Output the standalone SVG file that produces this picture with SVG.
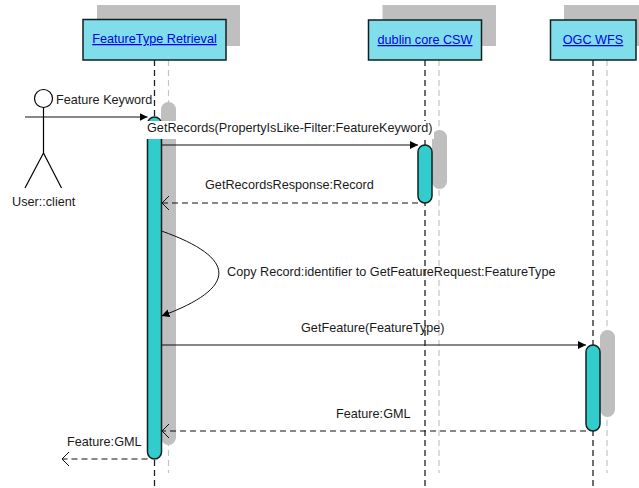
<svg xmlns="http://www.w3.org/2000/svg" width="639" height="488" viewBox="0 0 639 488">
<style>
text{font-family:"Liberation Sans",Arial,sans-serif;font-size:12.67px;fill:#1a1a1a}
.link{fill:#0000ee;text-decoration:underline;text-anchor:middle}
.head{fill:#80deea;stroke:#102020;stroke-width:1.5}
.shade{fill:#bfbfbf}
.life{stroke:#222;stroke-width:1.3;stroke-dasharray:6 4;fill:none}
.lifes{stroke:#c4c4c4;stroke-width:1.2;stroke-dasharray:6 4;fill:none}
.act{fill:#33cccc;stroke:#102020;stroke-width:1.5}
.msg{stroke:#111;stroke-width:1;fill:none}
.ret{stroke:#111;stroke-width:1;stroke-dasharray:6 4;fill:none}
.act-line{stroke:#000;stroke-width:1.2;fill:none}
</style>
<defs>
<marker id="solid" markerUnits="userSpaceOnUse" markerWidth="10" markerHeight="10" refX="8" refY="4" orient="auto"><path d="M0,0L8,4L0,8Z" fill="#000"/></marker>
<marker id="open" markerUnits="userSpaceOnUse" markerWidth="10" markerHeight="16" refX="8" refY="8" orient="auto"><path d="M1,1L8,8L1,15" fill="none" stroke="#111" stroke-width="1"/></marker>
</defs>
<g id="shadows">
<rect class="shade" x="97" y="5" width="143" height="41"/>
<rect class="shade" x="382.500" y="5" width="113.500" height="41"/>
<rect class="shade" x="564" y="5" width="75" height="41"/>
<path class="lifes" d="M168.500 60V473M439 60V473M607 60V473"/>
<rect class="shade" x="161" y="102" width="15" height="343" rx="7.500"/>
<rect class="shade" x="432" y="130" width="15" height="59" rx="7.500"/>
<rect class="shade" x="600" y="330" width="15" height="87" rx="7.500"/>
</g>
<g id="lifelines">
<path class="life" d="M154.500 60V488M425 60V488M593 60V488"/>
</g>
<g id="node-retrieval">
<rect class="head" x="83" y="19.500" width="143" height="40.500"/>
<text class="link" x="154.500" y="43">FeatureType Retrieval</text>
<rect class="act" x="147.500" y="117" width="14" height="342" rx="7"/>
</g>
<g id="node-csw">
<rect class="head" x="368.500" y="20" width="113" height="40"/>
<text class="link" x="425" y="44">dublin core CSW</text>
<rect class="act" x="418" y="145" width="14" height="58" rx="7"/>
</g>
<g id="node-wfs">
<rect class="head" x="550.500" y="20" width="85.500" height="40"/>
<text class="link" x="593" y="44">OGC WFS</text>
<rect class="act" x="586" y="345" width="14" height="86" rx="7"/>
</g>
<g id="node-client">
<circle cx="43.500" cy="98.500" r="9" fill="#fff" stroke="#000" stroke-width="1.200"/>
<path class="act-line" d="M43.500 107.500V153M43.500 153L25 188M43.500 153L61.500 188"/>
<text x="12" y="206">User::client</text>
</g>
<g id="connectors">
<path class="msg" d="M25 117H147.500" marker-end="url(#solid)"/>
<path class="msg" d="M161.500 145H418" marker-end="url(#solid)"/>
<path class="ret" d="M418 203H162" marker-end="url(#open)"/>
<path class="msg" d="M161.500 231C238 258 238 288 161.500 316" marker-end="url(#solid)"/>
<path class="msg" d="M161.500 345H586" marker-end="url(#solid)"/>
<path class="ret" d="M586 431H162" marker-end="url(#open)"/>
<path class="ret" d="M147.500 459H62" marker-end="url(#open)"/>
</g>
<g id="labels">
<rect x="146" y="121" width="288" height="18" fill="#fff"/>
<text x="147" y="132">GetRecords(PropertyIsLike-Filter:FeatureKeyword)</text>
<text x="56" y="104">Feature Keyword</text>
<text x="205" y="189">GetRecordsResponse:Record</text>
<text x="227" y="276">Copy Record:identifier to GetFeatureRequest:FeatureType</text>
<text x="301" y="332">GetFeature(FeatureType)</text>
<text x="336" y="418">Feature:GML</text>
<text x="67" y="446">Feature:GML</text>
</g>
</svg>
